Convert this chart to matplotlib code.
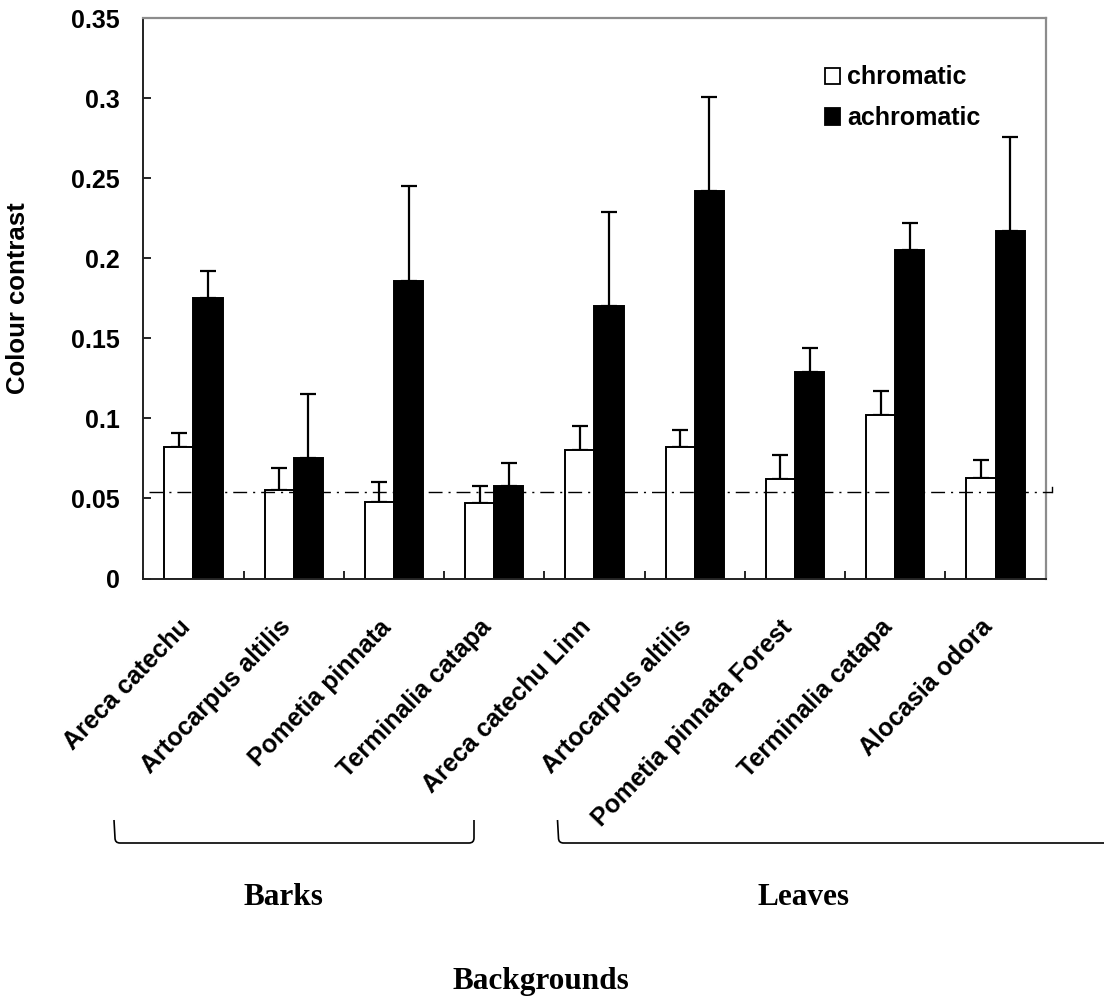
import matplotlib
matplotlib.use("Agg")
import matplotlib.pyplot as plt
from matplotlib.path import Path
from matplotlib.patches import PathPatch, Patch
from matplotlib.transforms import blended_transform_factory, offset_copy

# ---- data -------------------------------------------------------------
backgrounds = ["Areca catechu", "Artocarpus altilis", "Pometia pinnata",
               "Terminalia catapa", "Areca catechu Linn", "Artocarpus altilis",
               "Pometia pinnata Forest", "Terminalia catapa", "Alocasia odora"]
chromatic = [0.082, 0.055, 0.048, 0.047, 0.080, 0.082, 0.062, 0.102, 0.063]
chromatic_err = [0.009, 0.014, 0.012, 0.011, 0.015, 0.011, 0.015, 0.015, 0.011]
achromatic = [0.175, 0.075, 0.186, 0.058, 0.170, 0.242, 0.129, 0.205, 0.217]
achromatic_err = [0.017, 0.040, 0.059, 0.014, 0.059, 0.059, 0.015, 0.017, 0.059]
threshold = 0.054
yticks = [0, 0.05, 0.1, 0.15, 0.2, 0.25, 0.3, 0.35]
ytick_labels = ["0", "0.05", "0.1", "0.15", "0.2", "0.25", "0.3", "0.35"]
series_names = ["chromatic", "achromatic"]
group_names = ["Barks", "Leaves"]
xlabel = "Backgrounds"
ylabel = "Colour contrast"

# ---- figure -----------------------------------------------------------
W, H = 1104, 998
fig = plt.figure(figsize=(W / 100, H / 100), dpi=100)
SANS = "Liberation Sans"
SERIF = "Liberation Serif"


def fx(px):
    return px / W


def fy(py):
    return 1 - py / H


ax = fig.add_axes([fx(143.3), fy(578.5), fx(1045.7) - fx(143.3), fy(18.3) - fy(578.5)])

n = len(backgrounds)
xs = list(range(n))
bw = 0.29
xc = [x - bw / 2 for x in xs]
xa = [x + bw / 2 for x in xs]

ax.bar(xc, chromatic, width=bw, color="white", edgecolor="black", linewidth=1.4, zorder=2)
ax.bar(xa, achromatic, width=bw, color="black", edgecolor="black", linewidth=1.4, zorder=2)

err_kw = dict(fmt="none", ecolor="black", elinewidth=1.6, capsize=5.5, capthick=1.6, zorder=1)
ax.errorbar(xc, chromatic, yerr=[[0] * n, chromatic_err], **err_kw)
ax.errorbar(xa, achromatic, yerr=[[0] * n, achromatic_err], **err_kw)

# dash-dot reference level, running just past the right frame
x_end = n - 0.5 + 6 / 100.27
ax.plot([-0.44, x_end], [threshold, threshold], color="black", lw=1.0,
        linestyle=(0, (10, 4.3, 1.5, 4.3)), clip_on=False, zorder=3)
ax.plot([x_end, x_end], [threshold, threshold + 5 / 1600], color="black", lw=1.0,
        clip_on=False, zorder=3)

ax.set_xlim(-0.5, n - 0.5)
ax.set_ylim(0, 0.35)
ax.set_yticks(yticks)
ax.set_yticklabels(ytick_labels, fontfamily=SANS, fontweight="bold", fontsize=18)
ax.set_xticks([x + 0.5 for x in range(-1, n)])
ax.set_xticklabels([])
ax.tick_params(axis="y", direction="in", length=6, width=1.2, pad=17, colors="black")
ax.tick_params(axis="x", direction="in", length=6, width=1.2, colors="black")

for side in ("left", "bottom"):
    ax.spines[side].set_color("#222222")
    ax.spines[side].set_linewidth(1.4)
for side in ("top", "right"):
    ax.spines[side].set_color("#8c8c8c")
    ax.spines[side].set_linewidth(1.6)

# rotated category labels
base = blended_transform_factory(ax.transData, ax.transAxes)
lab_t = offset_copy(base, fig=fig, x=-7, y=-45, units="dots")
for x, name in zip(xs, backgrounds):
    ax.text(x, 0, name, transform=lab_t, rotation=46, ha="right", va="center",
            rotation_mode="anchor", fontfamily=SANS, fontweight="bold", fontsize=18)

# legend
handles = [Patch(facecolor="white", edgecolor="black", linewidth=1.3),
           Patch(facecolor="black", edgecolor="black", linewidth=1.3)]
leg = ax.legend(handles, series_names, loc="upper left",
                bbox_to_anchor=(fx(812), fy(53)), bbox_transform=fig.transFigure,
                frameon=False, handlelength=0.62, handleheight=0.62, handletextpad=0.3,
                labelspacing=0.67, borderpad=0,
                prop=dict(family=SANS, weight="bold", size=18))

# y-axis title
fig.text(fx(18), fy(298), ylabel, rotation=90, ha="center", va="center",
         fontfamily=SANS, fontweight="bold", fontsize=18.5)


# group brackets
def bracket(x0, x1, top, bottom, r=5):
    verts = [(fx(x0), fy(top)), (fx(x0 + 1), fy(bottom - r)),
             (fx(x0 + 1), fy(bottom)), (fx(x0 + 1 + r), fy(bottom)),
             (fx(x1 - r), fy(bottom)), (fx(x1), fy(bottom)),
             (fx(x1), fy(bottom - r)), (fx(x1), fy(top))]
    codes = [Path.MOVETO, Path.LINETO, Path.CURVE3, Path.CURVE3,
             Path.LINETO, Path.CURVE3, Path.CURVE3, Path.LINETO]
    fig.add_artist(PathPatch(Path(verts, codes), transform=fig.transFigure,
                             facecolor="none", edgecolor="black", lw=1.2))


bracket(114, 474, 820, 843)
bracket(557.5, 1130, 820, 843)

fig.text(fx(283), fy(905), group_names[0], ha="center", va="baseline",
         fontfamily=SERIF, fontweight="bold", fontsize=22.5)
fig.text(fx(804), fy(905), group_names[1], ha="center", va="baseline",
         fontfamily=SERIF, fontweight="bold", fontsize=22.5)
fig.text(fx(540.5), fy(989.5), xlabel, ha="center", va="baseline",
         fontfamily=SERIF, fontweight="bold", fontsize=22.5)

fig.savefig("out.png", dpi=100, facecolor="white")
